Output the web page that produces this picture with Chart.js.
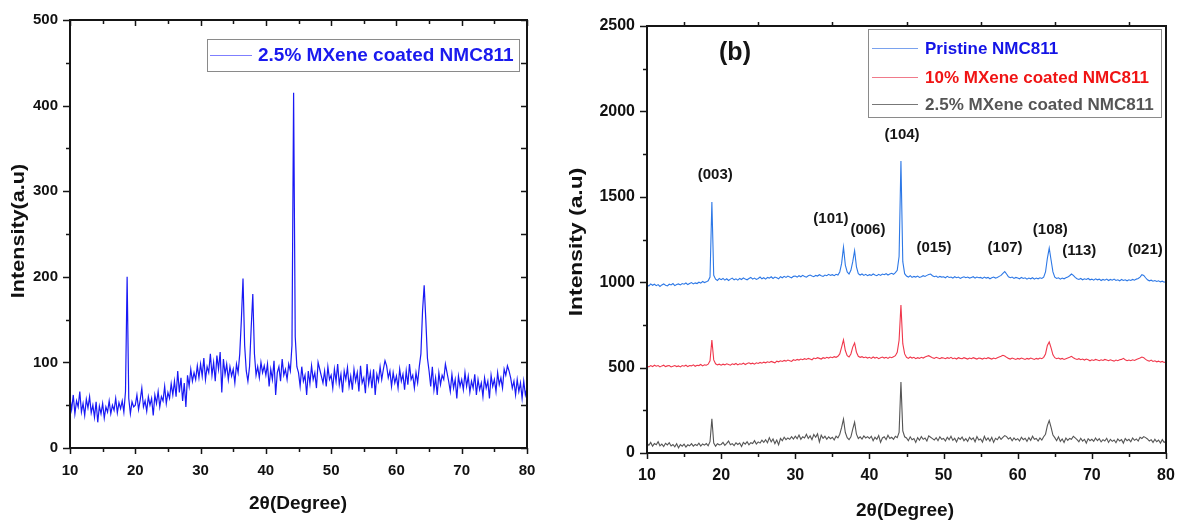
<!DOCTYPE html>
<html><head><meta charset="utf-8">
<script src="https://cdn.jsdelivr.net/npm/chart.js@4.4.1/dist/chart.umd.min.js"></script>
<style>
html,body{margin:0;padding:0;background:#fff;width:1179px;height:520px;overflow:hidden}
#a{position:absolute;left:0;top:0}
#b{position:absolute;left:560px;top:0}
</style></head><body>
<canvas id="a" width="560" height="520"></canvas>
<canvas id="b" width="619" height="520"></canvas>
<script>
// 2θ grid: 10° .. 80° every 0.25°
const thetaStart = 10, thetaStep = 0.25;

// 2.5% MXene coated NMC811 (same sample is the grey trace on the right)
const mx25 = [
 58,45,62,40,55,48,66,42,52,38,57,47,60,41,50,36,54,30,49,40,
 52,35,48,42,55,40,50,44,58,41,53,46,55,42,66,200,58,40,54,48,
 50,62,45,56,70,48,55,43,60,50,58,38,62,52,66,48,60,55,72,52,
 65,58,75,62,78,60,90,65,82,55,76,48,85,72,92,78,88,80,96,82,
 98,84,105,80,95,88,110,85,100,78,108,92,112,65,104,86,98,80,95,84,
 92,76,98,88,110,150,198,120,90,78,95,140,180,110,85,95,82,100,88,96,
 85,98,72,92,80,102,62,88,95,78,104,85,92,80,98,90,120,415,130,95,
 88,72,95,78,85,62,90,75,96,80,88,70,100,92,84,76,90,72,95,80,
 85,70,92,78,98,74,86,65,90,80,94,72,84,68,92,78,88,66,96,76,
 82,64,98,75,88,70,92,62,86,78,95,80,92,102,96,82,90,72,88,76,
 84,70,92,78,86,68,90,74,98,80,85,70,88,76,95,110,160,190,150,105,
 90,72,95,68,82,62,88,74,85,80,98,88,78,66,86,70,80,58,84,72,
 80,68,88,72,84,65,78,70,86,62,80,68,76,60,82,70,78,58,85,72,
 80,66,88,74,82,70,92,85,96,90,82,70,78,62,80,66,76,58,78,62,
 70
];

// Pristine NMC811
const pristine = [
 985,978,990,982,988,980,986,975,984,990,982,978,988,984,992,980,986,990,984,992,
 988,995,986,992,998,990,996,992,1000,995,1004,998,1002,1008,1030,1470,1040,1018,1010,1022,
 1015,1022,1012,1020,1010,1018,1024,1014,1020,1012,1022,1016,1025,1018,1014,1022,1028,1018,1024,1016,
 1022,1030,1020,1026,1018,1028,1024,1032,1022,1030,1026,1020,1032,1026,1034,1028,1036,1030,1026,1034,
 1036,1030,1038,1032,1040,1034,1030,1038,1042,1036,1032,1040,1036,1044,1038,1034,1042,1038,1046,1040,
 1044,1038,1046,1042,1060,1110,1205,1100,1060,1048,1070,1120,1185,1090,1050,1042,1048,1040,1046,1038,
 1044,1040,1048,1042,1038,1046,1040,1048,1044,1050,1042,1048,1052,1046,1056,1070,1150,1710,1120,1050,
 1036,1030,1038,1028,1034,1030,1036,1028,1032,1038,1034,1040,1045,1048,1038,1032,1036,1028,1034,1030,
 1032,1026,1034,1028,1030,1024,1032,1026,1030,1022,1028,1032,1026,1030,1024,1028,1032,1024,1030,1026,
 1028,1022,1030,1024,1028,1020,1026,1030,1024,1028,1034,1040,1052,1062,1048,1032,1026,1030,1022,1028,
 1024,1020,1028,1022,1026,1018,1024,1020,1026,1018,1024,1020,1026,1022,1030,1060,1140,1200,1130,1060,
 1030,1022,1026,1018,1024,1020,1026,1030,1038,1048,1040,1028,1020,1016,1022,1014,1020,1016,1022,1014,
 1018,1012,1020,1014,1018,1010,1016,1012,1018,1010,1016,1012,1018,1010,1014,1008,1016,1010,1014,1008,
 1014,1010,1016,1012,1018,1022,1030,1044,1040,1026,1014,1008,1012,1006,1010,1004,1008,1002,1006,1000,
 1004
];

// 10% MXene coated NMC811
const mx10 = [
 510,504,512,506,514,508,512,504,510,514,506,510,512,504,508,512,506,510,504,512,
 508,514,506,512,510,516,508,514,512,518,510,516,514,520,540,662,545,522,516,520,
 514,520,516,522,518,514,522,518,524,516,522,520,526,518,524,528,522,526,520,528,
 524,530,526,532,528,534,530,536,532,528,538,534,540,536,542,538,544,540,536,546,
 542,548,544,550,546,552,548,554,550,546,556,552,558,554,550,558,554,560,556,562,
 558,564,560,566,580,620,662,600,570,562,580,620,644,590,566,560,564,558,562,556,
 560,554,562,556,560,552,558,562,556,560,554,562,558,564,570,590,660,867,640,580,
 560,554,562,556,560,552,558,554,560,556,562,566,570,564,558,554,560,556,552,558,
 556,552,558,554,560,552,556,550,558,554,552,558,554,550,556,552,558,554,550,556,
 554,550,556,552,558,554,550,556,552,558,562,566,572,568,560,554,550,556,552,548,
 554,550,556,552,548,554,550,556,552,548,554,550,556,552,560,580,630,650,615,575,
 558,552,556,550,554,548,552,556,560,566,558,552,548,552,546,550,544,550,546,540,
 546,542,548,544,540,546,542,548,544,540,546,542,538,544,540,546,548,554,546,540,
 544,540,546,542,548,552,556,562,558,548,542,538,544,536,540,534,538,532,536,530,
 534
];

const xTicks = [10,20,30,40,50,60,70,80];
const leftYTicks = [0,100,200,300,400,500];
const rightYTicks = [0,500,1000,1500,2000,2500];

const peakLabels = ['(003)','(101)','(006)','(104)','(015)','(107)','(108)','(113)','(021)'];
const peakLabelX = [19.2,34.8,39.8,44.4,48.7,58.3,64.4,68.3,77.2];
const peakLabelY = [1628,1370,1306,1862,1200,1200,1306,1183,1189];

const toXY = arr => arr.map((v,i)=>({x: thetaStart + i*thetaStep, y: v}));

const FONT = '"Liberation Sans", Arial, sans-serif';

const framePlugin = {
  id:'frame',
  afterDatasetsDraw(chart, args, o){
    const {ctx, chartArea:a, scales:{x,y}} = chart;
    ctx.save();
    ctx.strokeStyle = '#151515';
    ctx.lineWidth = 2;
    ctx.strokeRect(a.left, a.top, a.right-a.left, a.bottom-a.top);
    ctx.lineWidth = 1.5;
    ctx.beginPath();
    for (let v = x.min; v <= x.max + 1e-9; v += 5) {
      const px = Math.round(x.getPixelForValue(v)) + 0.5;
      const major = (Math.round(v) % 10 === 0);
      ctx.moveTo(px, a.bottom); ctx.lineTo(px, a.bottom + (major ? 6 : 4));
      if (o.topIn) { ctx.moveTo(px, a.top); ctx.lineTo(px, a.top + (major ? 6 : 4)); }
      if (o.topOutOdd && !major) { ctx.moveTo(px, a.top); ctx.lineTo(px, a.top - 4); }
    }
    for (let v = y.min; v <= y.max + 1e-9; v += o.yMinor) {
      const py = Math.round(y.getPixelForValue(v)) + 0.5;
      const major = (Math.round(v) % o.yMajor === 0);
      ctx.moveTo(a.left, py); ctx.lineTo(a.left - (major ? 7 : 4), py);
      if (o.rightIn) { ctx.moveTo(a.right, py); ctx.lineTo(a.right - 6, py); }
    }
    ctx.stroke();
    ctx.restore();
  },
  afterDraw(chart, args, o){
    const {ctx, scales:{x,y}} = chart;
    ctx.save();
    ctx.fillStyle = '#111';
    ctx.textAlign = 'center';
    ctx.textBaseline = 'middle';
    ctx.font = 'bold 19px ' + FONT;
    ctx.fillText('2θ(Degree)', o.xTitle[0], o.xTitle[1]);
    ctx.save();
    ctx.translate(o.yTitle[0], o.yTitle[1]);
    ctx.rotate(-Math.PI/2);
    ctx.scale(o.yTitle[3], 1);
    ctx.font = 'bold 18px ' + FONT;
    ctx.fillText(o.yTitle[2], 0, 0);
    ctx.restore();
    const L = o.legend;
    ctx.fillStyle = '#fff';
    ctx.fillRect(L.box[0], L.box[1], L.box[2]-L.box[0], L.box[3]-L.box[1]);
    ctx.strokeStyle = '#8a8a8a';
    ctx.lineWidth = 1;
    ctx.strokeRect(L.box[0]+0.5, L.box[1]+0.5, L.box[2]-L.box[0], L.box[3]-L.box[1]);
    ctx.textAlign = 'left';
    ctx.font = 'bold ' + L.size + 'px ' + FONT;
    L.rows.forEach(r => {
      ctx.strokeStyle = r.line; ctx.lineWidth = 1;
      ctx.beginPath(); ctx.moveTo(L.lineX[0], r.y + 0.5); ctx.lineTo(L.lineX[1], r.y + 0.5); ctx.stroke();
      ctx.fillStyle = r.color;
      ctx.fillText(r.text, L.textX, r.y + 1);
    });
    if (o.peaks) {
      ctx.fillStyle = '#151515';
      ctx.textAlign = 'center';
      ctx.font = 'bold 15px ' + FONT;
      peakLabels.forEach((t,i) => {
        ctx.fillText(t, x.getPixelForValue(peakLabelX[i]), y.getPixelForValue(peakLabelY[i]));
      });
      ctx.font = 'bold 25px ' + FONT;
      ctx.fillText('(b)', o.panel[0], o.panel[1]);
    }
    ctx.restore();
  }
};

function makeChart(id, datasets, cfg){
  return new Chart(document.getElementById(id), {
    type:'line',
    data:{datasets},
    plugins:[framePlugin],
    options:{
      responsive:false, animation:false, events:[],
      layout:{padding:cfg.padding},
      elements:{point:{radius:0}, line:{tension:0, borderWidth:1}},
      plugins:{legend:{display:false}, tooltip:{enabled:false}, frame:cfg.frame},
      scales:{
        x:{type:'linear', min:10, max:80,
           afterFit:s=>{s.height=cfg.xh; s.paddingLeft=0; s.paddingRight=0;},
           afterBuildTicks:s=>{s.ticks = xTicks.map(v=>({value:v}));},
           grid:{display:false, drawTicks:false}, border:{display:false},
           ticks:{padding:cfg.xpad, color:'#111', maxRotation:0, callback:v=>String(v),
                  font:{family:FONT, weight:'bold', size:cfg.fs}}},
        y:{type:'linear', min:cfg.ymin, max:cfg.ymax,
           afterFit:s=>{s.width=cfg.yw; s.paddingTop=0; s.paddingBottom=0;},
           afterBuildTicks:s=>{s.ticks = cfg.yt.map(v=>({value:v}));},
           grid:{display:false, drawTicks:false}, border:{display:false},
           ticks:{padding:12, color:'#111', callback:v=>String(v),
                  font:{family:FONT, weight:'bold', size:cfg.fs}}}
      }
    }
  });
}

makeChart('a', [
  {data: toXY(mx25), borderColor:'rgb(25,25,245)', borderWidth:1.2}
], {
  padding:{left:0, top:20, right:33, bottom:0}, xh:72, yw:70, xpad:14, fs:15,
  ymin:0, ymax:500, yt:leftYTicks,
  frame:{topIn:true, rightIn:true, yMinor:50, yMajor:100,
    xTitle:[298,504], yTitle:[19,231,'Intensity(a.u)',1.2],
    legend:{box:[207,39,519,71], lineX:[210,252], textX:258, size:19,
      rows:[{y:55, text:'2.5% MXene coated NMC811', color:'#1a1aee', line:'#7f7fff'}]}}
});

makeChart('b', [
  {data: toXY(pristine), borderColor:'rgb(45,120,230)', borderWidth:1.1},
  {data: toXY(mx10), borderColor:'rgb(240,55,75)', borderWidth:1.1},
  {data: toXY(mx25), borderColor:'rgb(85,85,85)', borderWidth:1.1}
], {
  padding:{left:0, top:26, right:13, bottom:0}, xh:67, yw:87, xpad:13, fs:16,
  ymin:0, ymax:2500, yt:rightYTicks,
  frame:{topOutOdd:true, rightIn:false, yMinor:250, yMajor:500,
    xTitle:[345,511], yTitle:[17,242,'Intensity (a.u)',1.27],
    peaks:true, panel:[175,53],
    legend:{box:[308,29,601,117], lineX:[312,358], textX:365, size:17,
      rows:[
        {y:48, text:'Pristine NMC811', color:'#1414e6', line:'#7aa2ee'},
        {y:77, text:'10% MXene coated NMC811', color:'#f01414', line:'#f07a8a'},
        {y:104, text:'2.5% MXene coated NMC811', color:'#555555', line:'#777777'}
      ]}}
});
</script>
</body></html>
